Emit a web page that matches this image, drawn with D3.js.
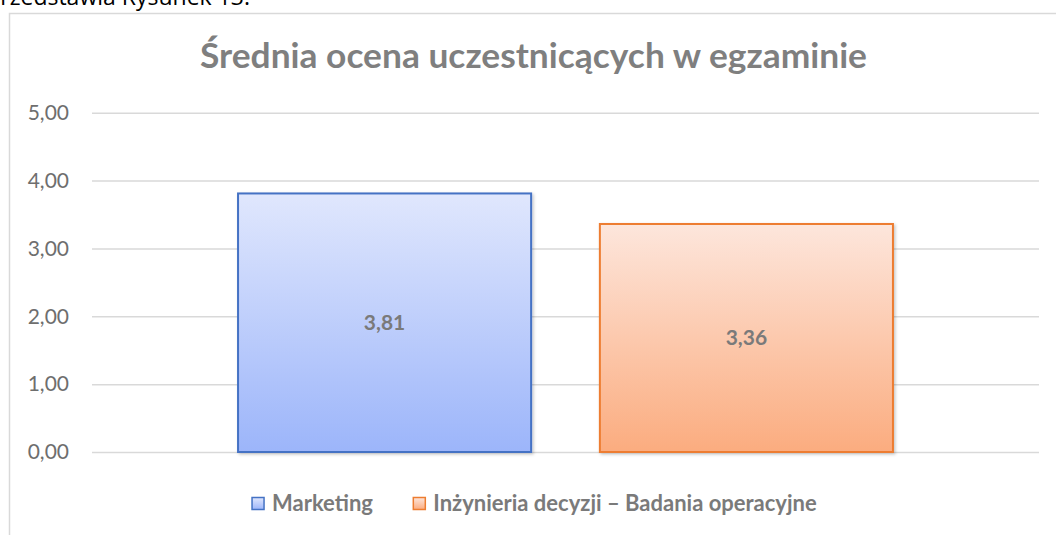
<!DOCTYPE html>
<html>
<head>
<meta charset="utf-8">
<script src="https://cdn.jsdelivr.net/npm/d3@7"></script>
<style>
  body { margin: 0; background: #fff; }
  svg { display: block; font-family: Lato, 'Open Sans', sans-serif; }
</style>
</head>
<body>
<div id="root"></div>
<script>
// Chart data.
let groupName = ['Ocena'];
let seriesNames = ['Marketing', 'Inżynieria decyzji – Badania operacyjne'];
let seriesValues = [3.81, 3.36];
let yTicks = [0, 1, 2, 3, 4, 5];
let yTickLabels = ['0,00', '1,00', '2,00', '3,00', '4,00', '5,00'];

let titleText = 'Średnia ocena uczestnicących w egzaminie';

let width = 1056;
let height = 535;

let plotLeft = 92;
let plotRight = 1039;
let plotTop = 112.7;
let plotBottom = 452;

// Colours per series: stroke, gradient top, gradient bottom.
let seriesColors = [
  { stroke: '#4472c4', top: '#e0e7fd', bottom: '#9cb5fa' },
  { stroke: '#ed7d31', top: '#fde6dc', bottom: '#fbac7f' }
];

let svg = d3.select('#root')
  .append('svg')
  .attr('width', width)
  .attr('height', height);

let defs = svg.append('defs');

seriesColors.forEach((c, i) => {
  let grad = defs.append('linearGradient')
    .attr('id', 'grad' + i)
    .attr('x1', 0).attr('y1', 0)
    .attr('x2', 0).attr('y2', 1);
  grad.append('stop').attr('offset', '0%').attr('stop-color', c.top);
  grad.append('stop').attr('offset', '100%').attr('stop-color', c.bottom);
});

defs.append('filter')
  .attr('id', 'shadow')
  .attr('x', '-10%').attr('y', '-10%')
  .attr('width', '120%').attr('height', '120%')
  .append('feDropShadow')
  .attr('dx', 1.5).attr('dy', 1.5)
  .attr('stdDeviation', 1.5)
  .attr('flood-color', '#000')
  .attr('flood-opacity', 0.22);

// Document text above the chart, cropped by the top edge as in the source.
svg.append('text')
  .attr('x', 250)
  .attr('y', 5)
  .attr('text-anchor', 'end')
  .attr('font-family', 'Open Sans, sans-serif')
  .attr('font-size', 23)
  .attr('fill', '#000')
  .text('przedstawia Rysunek 13.');

// Chart frame (only left and top edges are visible).
svg.append('path')
  .attr('d', `M9.5,${height} V13.5 H${width}`)
  .attr('fill', 'none')
  .attr('stroke', '#d9d9d9')
  .attr('stroke-width', 1.5);

// Scales.
let yScale = d3.scaleLinear()
  .domain([0, 5])
  .range([plotBottom, plotTop]);

let xOuter = d3.scaleBand()
  .domain(groupName)
  .range([plotLeft, plotRight])
  .paddingInner(0)
  .paddingOuter(0.223);

let xInner = d3.scaleBand()
  .domain(seriesNames)
  .range([0, xOuter.bandwidth()])
  .paddingInner(0.19)
  .paddingOuter(0);

// Y axis with gridlines.
let yAxis = d3.axisLeft(yScale)
  .tickValues(yTicks)
  .tickFormat((d, i) => yTickLabels[i])
  .tickSize(-(plotRight - plotLeft))
  .tickPadding(23);

let yAxisG = svg.append('g')
  .attr('transform', `translate(${plotLeft}, 0)`)
  .call(yAxis);

yAxisG.select('.domain').remove();
yAxisG.selectAll('line')
  .attr('stroke', '#d9d9d9')
  .attr('stroke-width', 1.5);
yAxisG.selectAll('text')
  .attr('fill', '#6e6e6e')
  .attr('font-size', 21)
  .attr('font-family', 'Lato, sans-serif');

// Bars.
let bars = svg.append('g')
  .selectAll('g')
  .data(seriesValues)
  .enter()
  .append('g');

bars.append('rect')
  .attr('x', (d, i) => xOuter(groupName[0]) + xInner(seriesNames[i]))
  .attr('y', d => yScale(d))
  .attr('width', xInner.bandwidth())
  .attr('height', d => yScale(0) - yScale(d))
  .attr('fill', (d, i) => `url(#grad${i})`)
  .attr('stroke', (d, i) => seriesColors[i].stroke)
  .attr('stroke-width', 2)
  .attr('filter', 'url(#shadow)');

// Value labels in the middle of each bar.
bars.append('text')
  .attr('x', (d, i) => xOuter(groupName[0]) + xInner(seriesNames[i]) + xInner.bandwidth() / 2)
  .attr('y', d => (yScale(d) + yScale(0)) / 2)
  .attr('dy', '0.35em')
  .attr('text-anchor', 'middle')
  .attr('font-size', 21)
  .attr('font-weight', 'bold')
  .attr('fill', '#7a7a7a')
  .text(d => d.toFixed(2).replace('.', ','));

// Title.
svg.append('text')
  .attr('x', 533.5)
  .attr('y', 68)
  .attr('text-anchor', 'middle')
  .attr('font-size', 34)
  .attr('font-weight', 'bold')
  .attr('fill', '#7f7f7f')
  .attr('textLength', 667)
  .attr('lengthAdjust', 'spacingAndGlyphs')
  .text(titleText);

// Legend, centred under the plot.
let legend = svg.append('g');
let legendItems = legend.selectAll('g')
  .data(seriesNames)
  .enter()
  .append('g');

legendItems.append('rect')
  .attr('width', 12)
  .attr('height', 12)
  .attr('fill', (d, i) => `url(#grad${i})`)
  .attr('stroke', (d, i) => seriesColors[i].stroke)
  .attr('stroke-width', 1.5);

legendItems.append('text')
  .attr('x', 20)
  .attr('y', 13)
  .attr('font-size', 22)
  .attr('font-weight', 'bold')
  .attr('fill', '#7a7a7a')
  .text(d => d);

let offset = 0;
let gapBetween = 40;
legendItems.each(function () {
  let w = this.getBBox().width;
  d3.select(this).attr('data-x', offset);
  offset += w + gapBetween;
});
let legendWidth = offset - gapBetween;
let legendLeft = 534.5 - legendWidth / 2;
legendItems.attr('transform', function () {
  return `translate(${legendLeft + (+this.getAttribute('data-x'))}, 497.5)`;
});
</script>
</body>
</html>
